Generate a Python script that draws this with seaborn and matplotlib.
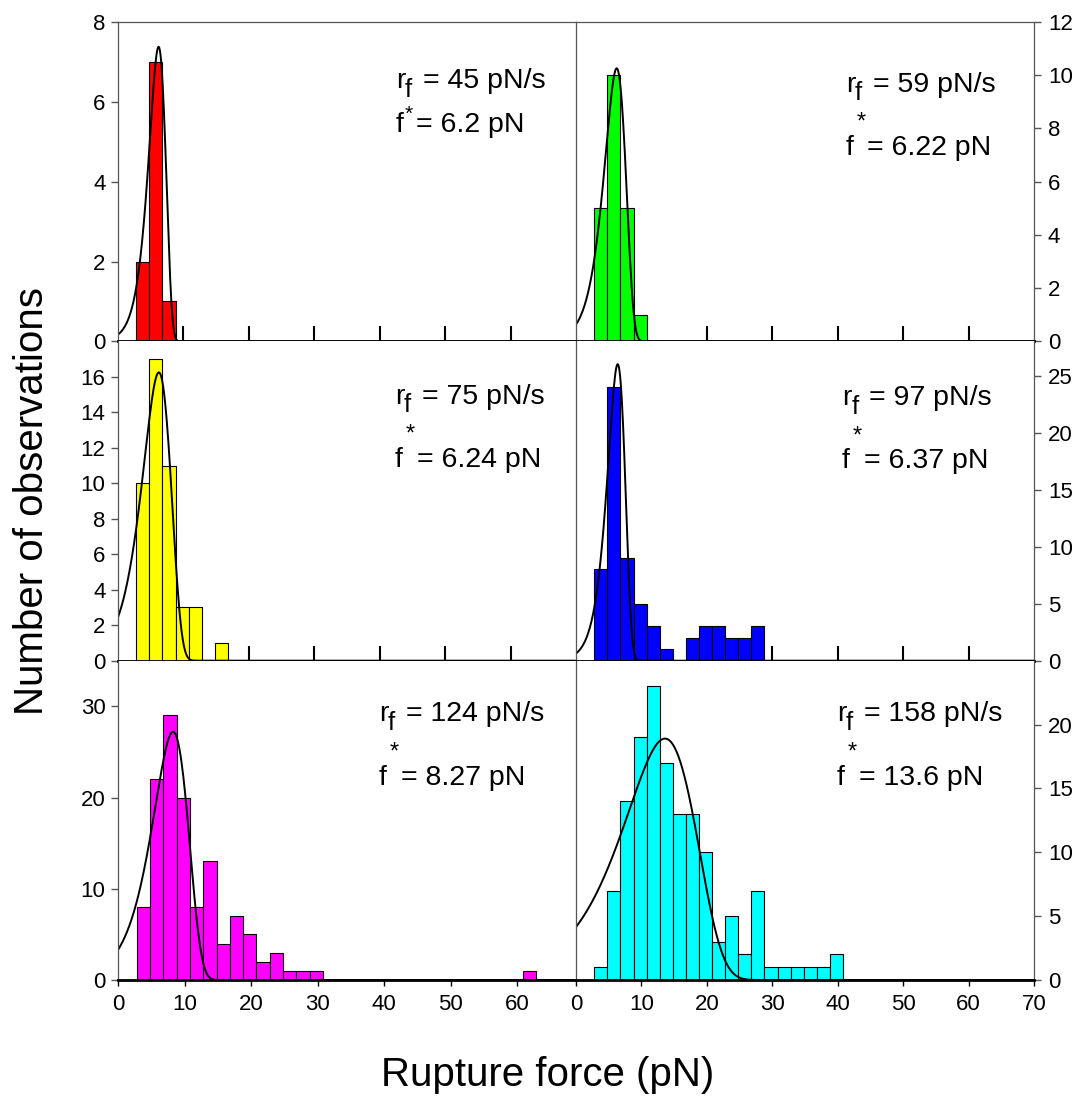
import numpy as np
import pandas as pd
import matplotlib
matplotlib.use("Agg")
import matplotlib.pyplot as plt
import seaborn as sns

# loading rates and most probable rupture forces
rates = ["45", "59", "75", "97", "124", "158"]
fstar = ["6.2", "6.22", "6.24", "6.37", "8.27", "13.6"]
colors = ["#FF0000", "#00FF00", "#FFFF00", "#0000FF", "#FF00FF", "#00FFFF"]

# histogram counts, bins of 2 pN starting at 2.8 pN
red_counts = [2, 7, 1]
green_counts = [5, 10, 5, 1]
yellow_counts = [10, 17, 11, 3, 3, 0, 1]
blue_counts = [8, 24, 9, 5, 3, 1, 0, 2, 3, 3, 2, 2, 3]
magenta_counts = [8, 22, 29, 20, 8, 13, 4, 7, 5, 2, 3, 1, 1, 1,
                  0, 0, 0, 0, 0, 0, 0, 0, 0, 0, 0, 0, 0, 0, 0, 1]
cyan_counts = [1, 7, 14, 19, 23, 17, 13, 13, 10, 3, 5, 2, 7, 1, 1, 1, 1, 1, 2]
all_counts = [red_counts, green_counts, yellow_counts,
              blue_counts, magenta_counts, cyan_counts]
bin_start = 2.8
bin_width = 2.0

# fitted rupture force distributions (peak height, mode, width)
fit_peak = [7.38, 10.26, 16.25, 26.0, 27.2, 18.9]
fit_mode = [6.2, 6.22, 6.24, 6.37, 8.27, 13.6]
fit_width = [1.3, 1.65, 2.2, 1.35, 2.7, 5.6]

y_max = [8, 12, 18, 28, 35, 25]
y_ticks = [[0, 2, 4, 6, 8], [0, 2, 4, 6, 8, 10, 12], list(range(0, 17, 2)),
           [0, 5, 10, 15, 20, 25], [0, 10, 20, 30], [0, 5, 10, 15, 20]]

sns.set_style("ticks")
plt.rcParams["font.family"] = ["Liberation Sans", "DejaVu Sans"]
plt.rcParams["text.color"] = "black"
plt.rcParams["xtick.labelcolor"] = "black"
plt.rcParams["ytick.labelcolor"] = "black"

fig = plt.figure(figsize=(10.81, 11.01), dpi=100)
gs = fig.add_gridspec(3, 2, left=118 / 1081, right=1034 / 1081,
                      top=1 - 22 / 1101, bottom=1 - 980 / 1101,
                      hspace=0, wspace=0)

text_pos = [(0.607, 0.792, 0.656), (0.589, 0.782, 0.583),
            (0.605, 0.805, 0.607), (0.581, 0.80, 0.602),
            (0.570, 0.81, 0.611), (0.570, 0.81, 0.611)]

for i in range(6):
    row, col = i // 2, i % 2
    ax = fig.add_subplot(gs[row, col])
    counts = all_counts[i]
    edges = bin_start + bin_width * np.arange(len(counts) + 1)
    df = pd.DataFrame({"force": edges[:-1] + bin_width / 2, "n": counts})
    sns.histplot(data=df, x="force", weights="n", bins=list(edges),
                 color=colors[i], edgecolor="black", linewidth=0.8,
                 alpha=1, ax=ax)

    xmax = 68.8 if (row == 2 and col == 0) else 70
    xs = np.linspace(0, xmax, 800)
    u = (xs - fit_mode[i]) / fit_width[i]
    ys = fit_peak[i] * np.exp(1 + u - np.exp(u))
    sns.lineplot(x=xs, y=ys, color="black", linewidth=1.4, ax=ax)

    ax.set_xlim(0, xmax)
    ax.set_ylim(0, y_max[i])
    ax.set_xlabel("")
    ax.set_ylabel("")
    ax.set_axisbelow(True)

    # spines
    for s in ["top", "left", "right"]:
        ax.spines[s].set_color("#555555")
        ax.spines[s].set_linewidth(0.9)
    ax.spines["bottom"].set_color("black")
    ax.spines["bottom"].set_linewidth(2.0)
    if row > 0:
        ax.spines["top"].set_visible(False)
    if col == 0:
        ax.spines["right"].set_visible(False)

    # x ticks
    if row == 2:
        ax.set_xticks(list(range(0, 61, 10)) if col == 0 else list(range(0, 71, 10)))
        ax.tick_params(axis="x", direction="out", length=4, width=1,
                       labelsize=16, pad=6, color="black")
    else:
        ax.set_xticks(list(range(10, 61, 10)))
        ax.tick_params(axis="x", direction="in", length=11, width=1.5,
                       labelbottom=False, color="black")

    # y ticks
    ax.set_yticks(y_ticks[i])
    if col == 0:
        ax.tick_params(axis="y", direction="out", length=5, width=1,
                       labelsize=16, pad=4, color="#555555")
    else:
        ax.yaxis.tick_right()
        ax.tick_params(axis="y", direction="out", length=5, width=1,
                       labelsize=16, pad=5, color="#555555")

    # annotation text
    tx, ty1, ty2 = text_pos[i]
    kw = dict(xycoords="axes fraction", textcoords="offset points",
              va="baseline", ha="left", color="black")
    ax.annotate("r", xy=(tx, ty1), xytext=(0, 0), fontsize=20.5, **kw)
    ax.annotate("f", xy=(tx, ty1), xytext=(6.5, -6), fontsize=18.5, **kw)
    ax.annotate("= " + rates[i] + " pN/s", xy=(tx, ty1), xytext=(19.5, 0),
                fontsize=20.5, **kw)
    ax.annotate("f", xy=(tx, ty2), xytext=(0, 0), fontsize=20.5, **kw)
    if i == 0:
        ax.annotate("*", xy=(tx, ty2), xytext=(6.3, 9), fontsize=15, **kw)
        ax.annotate("= " + fstar[i] + " pN", xy=(tx, ty2), xytext=(14.5, 0),
                    fontsize=20.5, **kw)
    else:
        ax.annotate("*", xy=(tx, ty2), xytext=(7.5, 19), fontsize=17, **kw)
        ax.annotate("= " + fstar[i] + " pN", xy=(tx, ty2), xytext=(15.5, 0),
                    fontsize=20.5, **kw)

fig.text(32 / 1081, 1 - 501 / 1101, "Number of observations", rotation=90,
         fontsize=29, ha="center", va="center", color="black")
fig.text(548 / 1081, 1 - 1075 / 1101, "Rupture force (pN)",
         fontsize=29, ha="center", va="center", color="black")

fig.savefig("out.png", dpi=100)
